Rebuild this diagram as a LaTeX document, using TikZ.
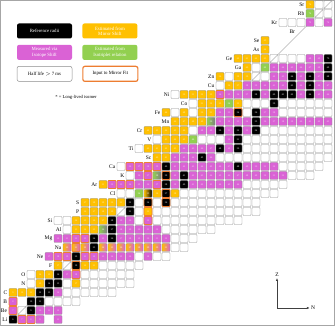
\documentclass[tikz,border=0pt]{standalone}
\usepackage{fontspec}
\setmainfont{Liberation Serif}
\usepackage{tikz}
\usetikzlibrary{arrows.meta,positioning}
\definecolor{cYel}{HTML}{FFC000}
\definecolor{cPnk}{HTML}{DA62D5}
\definecolor{cGrn}{HTML}{92D050}
\definecolor{cOrg}{HTML}{ED7D31}
\definecolor{cBox}{HTML}{8C8C8C}
\definecolor{cFrm}{HTML}{A6A6A6}

% one run of cells in a row: Z, first N, cell styles
\newcommand\crow[3]{%
  \foreach \c [count=\n from #2] in {#3}{%
    \pgfmathtruncatemacro\ma{#1+\n}%
    \node[cell,\c] (n#1-\n) at (\n,#1) {\ma};}}

\begin{document}
\begin{tikzpicture}[x=1pt,y=1pt,
  cell/.style={draw=cBox, line width=0.4pt, rounded corners=0.8pt, minimum size=8pt, inner sep=0pt, text=white, font=\fontsize{2.4}{2.4}\selectfont},
  wt/.style={fill=none, execute at begin node={\setbox0\hbox\bgroup}, execute at end node={\egroup}},
  bk/.style={fill=black},
  ye/.style={fill=cYel, text=white!80!cYel},
  pk/.style={fill=cPnk, text=white!80!cPnk},
  gr/.style={fill=cGrn},
  org/.style={draw=cOrg, line width=0.9pt},
  pko/.style={pk,org}, bko/.style={bk,org}, yeo/.style={ye,org},
  yp/.style={left color=cYel, right color=cPnk},
  ypo/.style={yp,org},
  gk/.style={left color=cGrn, right color=gray},
  yk/.style={left color=cYel, right color=black},
  elab/.style={font=\fontsize{5.5}{6}\selectfont, inner sep=0.5pt},
  lgbox/.style={rounded corners=2pt, minimum width=55pt, minimum height=15pt, align=center, inner sep=1pt, font=\fontsize{4.8}{5.3}\selectfont},
  diag/.style={draw=gray!60, line width=0.4pt},
  axis/.style={-{Latex[length=3pt,width=2.4pt]}, line width=0.8pt, draw=black!75}]
\useasboundingbox (0,0) rectangle (335,326);
\draw[cFrm, line width=1pt] (0.5,0.5) rectangle (334.5,325.5);

% legend
\node[lgbox, fill=black, text=white] (kRef) at (44.5,295) {Reference radii};
\node[lgbox, fill=cYel, text=white, right=10pt of kRef] (kMir) {Estimated from\\Mirror Shift};
\node[lgbox, fill=cPnk, text=white, below=6pt of kRef] (kIso) {Measured via\\Isotope Shift};
\node[lgbox, fill=cGrn, text=white, right=10pt of kIso] (kTri) {Estimated from\\Isotriplet relation};
\node[lgbox, draw=cBox, line width=0.5pt, below=6pt of kIso] (kHal) {Half life $>$ 7 ms};
\node[lgbox, draw=cOrg, line width=1.2pt, right=10pt of kHal] (kFit) {Input to Mirror Fit};
\node[font=\fontsize{4.6}{5}\selectfont] (kIsm) at (76,229) {* = Long-lived isomer};

% chart of nuclides, one unit = one cell
\begin{scope}[x=9pt, y=9pt, shift={(-14pt,-20.5pt)}]
\coordinate (d0) at (2.6,2.6);
\coordinate (d1) at (38.6,38.6);
\draw[diag] (d0) -- (d1);
\crow{3}{3}{bk,pko,pko,pk}
\crow{3}{8}{pk}
\crow{4}{3}{pko,wt,bk,pk,pk,pk}
\crow{5}{3}{pko}
\crow{5}{5}{bk,bk,wt,wt,wt,wt}
\crow{6}{3}{ye,ye,ye,bk,bk,pk,wt,wt,wt,wt,wt,wt}
\crow{7}{5}{wt,ye,bk,bk,wt,ye,wt,wt,wt,wt,wt,wt}
\crow{8}{5}{wt,ye,ye,bk,pk,pko,wt,wt,wt,wt,wt,wt}
\crow{9}{8}{ye,wt,bko,ye,ye,wt,wt,wt,wt,wt}
\crow{10}{7}{pk,pko,pko,bk,pko,pko,pk,pk,pk,pk,wt,pk,wt,wt}
\crow{11}{9}{yp,ypo,yp,bk,yp,yp,yp,yp,yp,yp,yp,yp,wt,wt}
\crow{12}{8}{pk,pk,pko,pko,bk,pk,bk,pk,pk,pk,pk,pk,pk,wt,wt,wt}
\crow{13}{9}{wt,ye,ye,ye,gk,bk,pk,pk,pk,pk,pk,wt,wt,wt,wt,wt,wt}
\crow{14}{8}{wt,wt,ye,ye,ye,ye,bk,pk,pk,wt,pko,wt,wt,wt,wt,wt,wt,wt,wt,wt,wt}
\crow{15}{11}{ye,ye,ye,ye,wt,bk,wt,yeo,wt,wt,wt,wt,wt,wt,wt,wt,wt,wt,wt,wt}
\crow{16}{11}{ye,ye,ye,ye,ye,bk,wt,bko,wt,bko,wt,wt,wt,wt,wt,wt,wt,wt,wt,wt}
\crow{17}{15}{wt,wt,gr,yk,ye,bko,ye,wt,wt,wt,wt,wt,wt,wt,wt,wt,wt,wt}
\crow{18}{13}{ye,pko,pko,pko,pk,pk,pko,bk,pk,bk,pk,pk,pk,pk,pk,pk,wt,wt,wt,wt,wt}
\crow{19}{16}{wt,pk,pko,gk,bko,pk,bk,pk,pk,pk,pk,pk,pk,pk,pk,pk,pk,pk,wt,wt,wt}
\crow{20}{15}{wt,pko,pko,pko,pko,bk,pk,pk,pk,pk,pk,pk,pk,bk,pk,pk,pk,pk,wt,wt,wt,wt,wt}
\crow{21}{19}{ye,ye,pk,pk,pk,bk,pk,wt,wt,wt,wt,wt,wt,wt,wt,wt,wt,wt,wt,wt}
\crow{22}{17}{wt,ye,ye,ye,ye,pk,pk,pk,pk,bk,pk,bk,wt,wt,wt,wt,wt,wt,wt,wt,wt,wt}
\crow{23}{19}{wt,ye,ye,ye,gr,wt,wt,wt,pk,bk,wt,wt,wt,wt,wt,wt,wt,wt,wt,wt}
\crow{24}{18}{ye,ye,ye,ye,ye,wt,pk,pk,bk,pk,bk,pk,bk,wt,wt,wt,wt,wt,wt,wt,wt}
\crow{25}{21}{ye,ye,ye,ye,gk,pk,pk,pk,pk,bk,pk,pk,pk,pk,pk,pk,pk,pk}
\crow{26}{20}{ye,wt,ye,wt,ye,ye,pk,pk,bko,wt,bk,pk,pk,wt,wt,wt,wt,wt,wt}
\crow{27}{23}{wt,ye,ye,ye,gr,ye,wt,wt,wt,bk,wt,wt,wt,wt,wt,wt}
\crow{28}{21}{wt,ye,ye,ye,ye,pko,pk,pk,pk,bk,pk,bk,bk,bk,pk,bk,pk,pk}
\crow{29}{26}{wt,ye,ye,pk,pk,pk,pk,pk,bk,pk,bk,pk,pk}
\crow{30}{26}{ye,wt,ye,ye,wt,wt,pk,pk,bk,pk,bk,pk,bk}
\crow{31}{29}{ye,wt,gr,pk,pk,pk,pk,pk,pk,bk}
\crow{32}{28}{ye,ye,ye,ye,wt,wt,wt,wt,pk,pk,bk}
\crow{33}{31}{ye}
\crow{34}{31}{ye}
\crow{36}{33}{wt,wt,wt,pk,wt,pk}
\node[cell,gr] (n37-36) at (36,37) {74};
\crow{37}{37}{wt,wt}
\crow{38}{36}{ye,wt,wt}
\coordinate (brc) at (34.5,35);
% element names
\foreach \e/\c in {Li/n3-3,Be/n4-3,B/n5-3,C/n6-3,N/n7-5,O/n8-5,F/n9-8,Ne/n10-7,Na/n11-9,Mg/n12-8,Al/n13-9,Si/n14-8,P/n15-11,S/n16-11,Cl/n17-15,Ar/n18-13,K/n19-16,Ca/n20-15,Sc/n21-19,Ti/n22-17,V/n23-19,Cr/n24-18,Mn/n25-21,Fe/n26-20,Co/n27-23,Ni/n28-21,Cu/n29-26,Zn/n30-26,Ga/n31-29,Ge/n32-28,As/n33-31,Se/n34-31,Br/brc,Kr/n36-33,Rb/n37-36,Sr/n38-36}
  \node[elab, left=0.8pt of \c] (l\e) {\e};
\end{scope}

% axes
\coordinate (ax0) at (277,18);
\node[font=\fontsize{5.5}{6}\selectfont, inner sep=1pt] (axZ) at (277,51) {Z};
\node[font=\fontsize{5.5}{6}\selectfont, inner sep=1pt] (axN) at (313,18) {N};
\draw[axis] (ax0) -- (axZ.south);
\draw[axis] (ax0) -- (axN.west);
\end{tikzpicture}
\end{document}
